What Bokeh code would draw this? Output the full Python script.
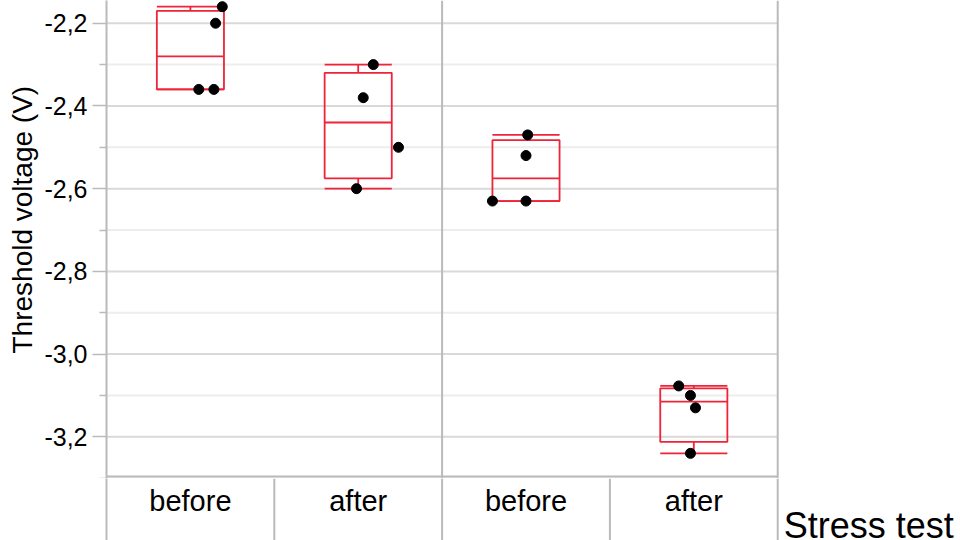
from bokeh.plotting import figure
from bokeh.models import FixedTicker, Range1d, ColumnDataSource, Title
from bokeh.layouts import column
from bokeh.core.properties import value
from bokeh.embed import file_html
from bokeh.resources import INLINE

# ---------------- data ----------------
stress_levels = ["before", "after", "before", "after"]
vt_g1_before = [-2.16, -2.20, -2.36, -2.36]
vt_g1_after = [-2.30, -2.38, -2.50, -2.60]
vt_g2_before = [-2.47, -2.52, -2.63, -2.63]
vt_g2_after = [-3.077, -3.10, -3.13, -3.24]
# horizontal jitter of the points (in category widths)
jitter_g1_before = [0.19, 0.15, 0.05, 0.14]
jitter_g1_after = [0.09, 0.03, 0.24, -0.01]
jitter_g2_before = [0.01, 0.00, 0.00, -0.20]
jitter_g2_after = [-0.09, -0.02, 0.01, -0.02]
y_major_ticks = [-3.2, -3.0, -2.8, -2.6, -2.4, -2.2]
y_minor_ticks = [-3.3, -3.1, -2.9, -2.7, -2.5, -2.3, -2.1]
y_tick_labels = ["-3,2", "-3,0", "-2,8", "-2,6", "-2,4", "-2,2"]
y_title = "Threshold voltage (V)"
x_title = "Stress test"

# ---------------- style / layout ----------------
RED = "#ee2439"
GRAY = "#bababa"
GRID_MAJOR = "#d9d9d9"
GRID_MINOR = "#ededed"
FONT = "Liberation Sans"
BOX_HALF = 0.2
LW = 1.8

W = 960
MAIN_H = 478              # height of the upper figure (data area)
ROW_H = 62                # height of the category label row
LEFT = 105                # px reserved for the y axis
PLOT_PX_W = 672           # width of the data area (4 categories)
PLOT_PX_H = 476           # px from top to the bottom line of the data area
N_CAT = len(stress_levels)
Y_TOP, Y_PLOT_MIN = -2.145, -3.296
Y_START = Y_TOP - (Y_TOP - Y_PLOT_MIN) * MAIN_H / PLOT_PX_H
X_END = N_CAT * (W - LEFT) / PLOT_PX_W

series = [vt_g1_before, vt_g1_after, vt_g2_before, vt_g2_after]
jitters = [jitter_g1_before, jitter_g1_after, jitter_g2_before, jitter_g2_after]
centers = [i + 0.5 for i in range(N_CAT)]


def quantile(vals, p):
    s = sorted(vals)
    n = len(s)
    pos = (n + 1) * p
    if pos <= 1:
        return s[0]
    if pos >= n:
        return s[-1]
    k = int(pos)
    f = pos - k
    return s[k - 1] + f * (s[k] - s[k - 1])


box_src = ColumnDataSource(dict(
    x=centers,
    left=[c - BOX_HALF for c in centers],
    right=[c + BOX_HALF for c in centers],
    q1=[quantile(v, 0.25) for v in series],
    med=[quantile(v, 0.5) for v in series],
    q3=[quantile(v, 0.75) for v in series],
    lo=[min(v) for v in series],
    hi=[max(v) for v in series]))

pts_x = [c + j for c, js in zip(centers, jitters) for j in js]
pts_y = [y for v in series for y in v]

# ================= upper figure: data area =================
p = figure(width=W, height=MAIN_H,
           x_range=Range1d(0, X_END), y_range=Range1d(Y_START, Y_TOP),
           output_backend="svg", toolbar_location=None, x_axis_location=None,
           min_border_left=LEFT, min_border_right=0,
           min_border_top=0, min_border_bottom=0)
p.outline_line_color = None
p.background_fill_color = "white"
p.border_fill_color = "white"
for g in p.grid:
    g.visible = False

ya = p.yaxis[0]
ya.ticker = FixedTicker(ticks=y_major_ticks, minor_ticks=y_minor_ticks)
ya.major_label_overrides = dict(zip(y_major_ticks, y_tick_labels))
ya.axis_line_color = GRAY
ya.axis_line_width = 2
ya.major_tick_in = 0
ya.major_tick_out = 14
ya.minor_tick_in = 0
ya.minor_tick_out = 7
ya.major_tick_line_color = GRAY
ya.minor_tick_line_color = GRAY
ya.major_tick_line_width = 1.5
ya.minor_tick_line_width = 1.5
ya.major_label_text_font = FONT
ya.major_label_text_font_size = "25px"
ya.major_label_text_color = "black"
ya.major_label_standoff = 5

# y title, starting higher up like in the original
p.add_layout(Title(text=y_title, align="left", offset=125, standoff=8,
                   text_font=FONT, text_font_size="28px", text_font_style="normal",
                   text_color="black"), "left")

# horizontal grid lines limited to the data area
p.segment(x0=0, x1=N_CAT, y0=y_minor_ticks, y1=y_minor_ticks,
          line_color=GRID_MINOR, line_width=2)
p.segment(x0=0, x1=N_CAT, y0=y_major_ticks, y1=y_major_ticks,
          line_color=GRID_MAJOR, line_width=2)

# bottom line of the data area, group divider and right border
p.segment(x0=0, x1=N_CAT, y0=Y_PLOT_MIN, y1=Y_PLOT_MIN, line_color=GRAY, line_width=2)
p.segment(x0=[N_CAT / 2, N_CAT], x1=[N_CAT / 2, N_CAT], y0=Y_START, y1=Y_TOP,
          line_color=GRAY, line_width=2)

# box plots
p.quad(left="left", right="right", bottom="q1", top="q3", source=box_src,
       fill_color=None, line_color=RED, line_width=LW)
p.segment(x0="left", x1="right", y0="med", y1="med", source=box_src, line_color=RED, line_width=LW)
p.segment(x0="x", x1="x", y0="q3", y1="hi", source=box_src, line_color=RED, line_width=LW)
p.segment(x0="x", x1="x", y0="lo", y1="q1", source=box_src, line_color=RED, line_width=LW)
p.segment(x0="left", x1="right", y0="hi", y1="hi", source=box_src, line_color=RED, line_width=LW)
p.segment(x0="left", x1="right", y0="lo", y1="lo", source=box_src, line_color=RED, line_width=LW)

# points
p.scatter(pts_x, pts_y, size=10, color="black")

# ================= lower figure: category label row =================
r = figure(width=W, height=ROW_H,
           x_range=p.x_range, y_range=Range1d(0, 1),
           output_backend="svg", toolbar_location=None, x_axis_location=None,
           min_border_left=LEFT, min_border_right=0,
           min_border_top=0, min_border_bottom=0)
r.outline_line_color = None
r.background_fill_color = "white"
r.border_fill_color = "white"
for g in r.grid:
    g.visible = False
ra = r.yaxis[0]
ra.ticker = FixedTicker(ticks=[], minor_ticks=[])
ra.axis_line_color = GRAY
ra.axis_line_width = 2
ra.major_label_text_font_size = "0px"

# separators of the label row
seps = list(range(1, N_CAT + 1))
r.segment(x0=seps, x1=seps, y0=0, y1=1, line_color=GRAY, line_width=2)

# category labels
r.text(x=centers, y=[1] * N_CAT, text=stress_levels, y_offset=6,
       text_align="center", text_baseline="top", text_color="black",
       text_font=value(FONT), text_font_size="29px")

# x title at the right of the label row
r.text(x=[N_CAT], y=[1], text=[x_title], x_offset=6, y_offset=47,
       text_align="left", text_baseline="alphabetic", text_color="black",
       text_font=value(FONT), text_font_size="36px")

layout = column(p, r, spacing=0)
open("out.html", "w").write(file_html(layout, INLINE))
